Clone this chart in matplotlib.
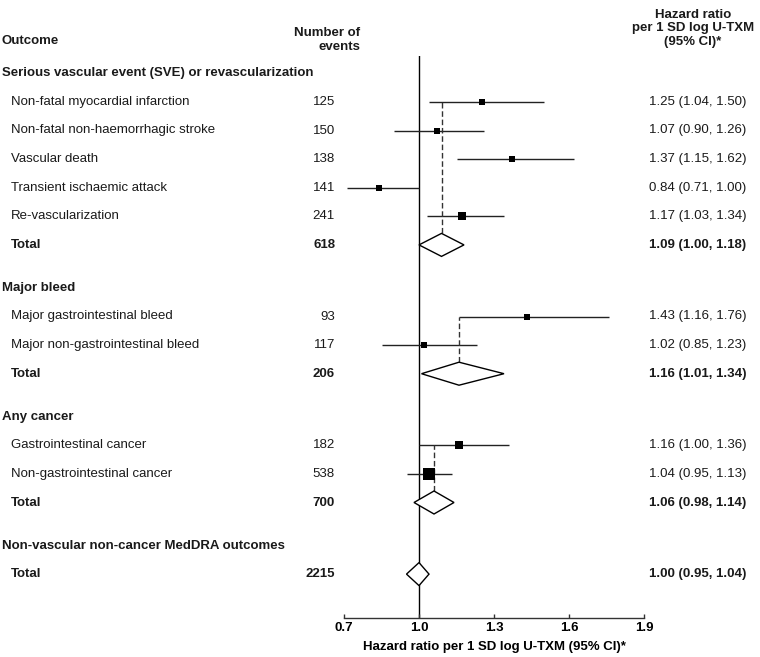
import numpy as np
import matplotlib
matplotlib.use("Agg")
import matplotlib.pyplot as plt
from matplotlib.patches import Polygon
from matplotlib.transforms import blended_transform_factory

plt.rcParams['font.family'] = ['Liberation Sans', 'DejaVu Sans']

# groups of outcomes
groups = ["Serious vascular event (SVE) or revascularization",
          "Major bleed",
          "Any cancer",
          "Non-vascular non-cancer MedDRA outcomes"]
outcomes = [["Non-fatal myocardial infarction", "Non-fatal non-haemorrhagic stroke",
             "Vascular death", "Transient ischaemic attack", "Re-vascularization"],
            ["Major gastrointestinal bleed", "Major non-gastrointestinal bleed"],
            ["Gastrointestinal cancer", "Non-gastrointestinal cancer"],
            []]
events = [[125, 150, 138, 141, 241], [93, 117], [182, 538], []]
hr = [[1.25, 1.07, 1.37, 0.84, 1.17], [1.43, 1.02], [1.16, 1.04], []]
lo = [[1.04, 0.90, 1.15, 0.71, 1.03], [1.16, 0.85], [1.00, 0.95], []]
hi = [[1.50, 1.26, 1.62, 1.00, 1.34], [1.76, 1.23], [1.36, 1.13], []]

total_events = [618, 206, 700, 2215]
total_hr = [1.09, 1.16, 1.06, 1.00]
total_lo = [1.00, 1.01, 0.98, 0.95]
total_hi = [1.18, 1.34, 1.14, 1.04]

xticks = [0.7, 1.0, 1.3, 1.6, 1.9]

W, H = 760, 657
fig = plt.figure(figsize=(W / 100, H / 100), dpi=100)

# forest axes, y in pixel rows (top = 56, axis line = 618)
y_top, y_axis = 56, 618.3
ax = fig.add_axes([344 / W, (H - y_axis) / H, 300 / W, (y_axis - y_top) / H])
ax.set_xlim(0.7, 1.9)
ax.set_ylim(y_axis, y_top)
for s in ['top', 'right', 'left']:
    ax.spines[s].set_visible(False)
ax.spines['bottom'].set_linewidth(1)
ax.spines['bottom'].set_color('#333333')
ax.set_yticks([])
fs = 9.5
ax.set_xticks(xticks)
ax.set_xticklabels([f"{t:.1f}" for t in xticks], fontweight='bold', fontsize=fs)
ax.tick_params(axis='x', direction='in', length=3, width=1, color='#333333', pad=3)
ax.set_xlabel("Hazard ratio per 1 SD log U-TXM (95% CI)*", fontweight='bold', fontsize=fs, labelpad=5)
ax.axvline(1.0, color='black', lw=1, zorder=1)

tr = blended_transform_factory(fig.transFigure, ax.transData)
txt_col = '#1a1a1a'

def put(px, y, s, **kw):
    ax.text(px / W, y, s, transform=tr, va='center', fontsize=fs, color=txt_col, **kw)

# column headers
put(2, 41.5, "Outcome", fontweight='bold')
put(360, 40, "Number of\nevents", fontweight='bold', ha='right', multialignment='right', linespacing=1.18)
put(693, 28.5, "Hazard ratio\nper 1 SD log U-TXM\n(95% CI)*", fontweight='bold', ha='center',
    multialignment='center', linespacing=1.16)

step, gap = 28.6, 43.0
y = 73.3
half_d = 11.5
for g in range(len(groups)):
    put(2, y, groups[g], fontweight='bold')
    first = None
    for i in range(len(outcomes[g])):
        y += step
        if first is None:
            first = y
        put(11, y, outcomes[g][i])
        put(335, y, str(events[g][i]), ha='right')
        put(649, y, f"{hr[g][i]:.2f} ({lo[g][i]:.2f}, {hi[g][i]:.2f})")
        ax.hlines(y, lo[g][i], hi[g][i], color='#222222', lw=1, zorder=2)
        side = 2.2 / np.log(hi[g][i] / lo[g][i])
        ax.plot(hr[g][i], y, marker='s', ms=side * 0.72, color='black', mec='black', mew=0, zorder=4)
    y += step
    put(11, y, "Total", fontweight='bold')
    put(335, y, str(total_events[g]), ha='right', fontweight='bold')
    put(649, y, f"{total_hr[g]:.2f} ({total_lo[g]:.2f}, {total_hi[g]:.2f})", fontweight='bold')
    d = Polygon([(total_lo[g], y), (total_hr[g], y - half_d), (total_hi[g], y), (total_hr[g], y + half_d)],
                closed=True, facecolor='white', edgecolor='black', lw=1, zorder=3)
    ax.add_patch(d)
    if first is not None:
        ax.plot([total_hr[g], total_hr[g]], [y - half_d, first], color='#333333', lw=1,
                ls=(0, (4, 2)), zorder=2)
    y += gap

fig.savefig("out.png", dpi=100)
